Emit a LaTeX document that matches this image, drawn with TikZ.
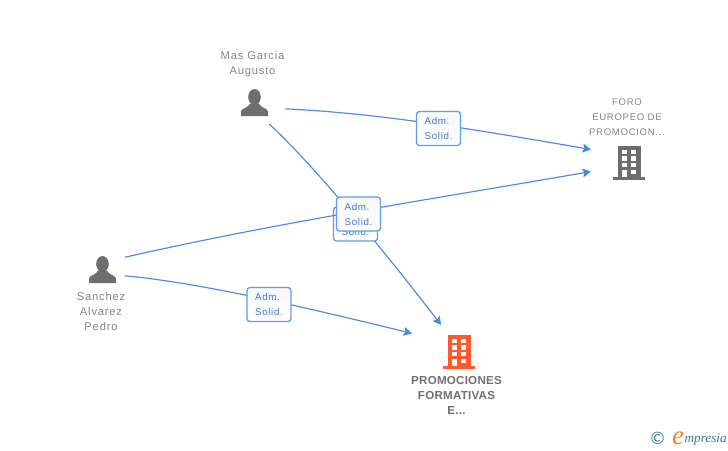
\documentclass[tikz,border=0pt]{standalone}
\usepackage{fontspec}
\setmainfont{Liberation Sans}
\newfontfamily\spacedfont[LetterSpace=7]{Liberation Sans}
\newfontfamily\spacedbold[LetterSpace=2,BoldFont={Liberation Sans Bold}]{Liberation Sans}
\newfontfamily\logofont{Liberation Serif}
\usetikzlibrary{arrows.meta}
\definecolor{linkblue}{HTML}{4A8AE4}
\definecolor{boxblue}{HTML}{5F9CEA}
\definecolor{labblue}{HTML}{3B78D0}
\definecolor{namegrey}{HTML}{858585}
\definecolor{icongrey}{HTML}{6E6E6E}
\definecolor{boldgrey}{HTML}{707070}
\definecolor{orangeb}{HTML}{FF5A2E}
\definecolor{tealb}{HTML}{2F7F96}
\definecolor{logoorange}{HTML}{F08A1E}
\tikzset{
  x=1pt,y=-1pt,
  anchorbox/.style={draw=none,fill=none,inner sep=0pt,outer sep=0pt},
  link/.style={draw=linkblue,line width=1.15pt,-{Stealth[length=8.5pt,width=9pt,inset=1.8pt]}},
  lab/.style={draw=boxblue,line width=1.3pt,rounded corners=3pt,top color=black!3,bottom color=white,
    minimum width=44pt,minimum height=34pt,inner sep=0pt,text=labblue,
    font=\spacedfont\fontsize{9.8}{15}\selectfont,align=left},
  nametext/.style={text=namegrey,font=\spacedfont\fontsize{11.2}{15}\selectfont,align=center,inner sep=0pt},
  boldtext/.style={text=boldgrey,font=\spacedbold\bfseries\fontsize{11.6}{15}\selectfont,align=center,inner sep=0pt},
  personicon/.pic={
    \fill[icongrey] (0,-5.5) ellipse[x radius=6.3,y radius=8];
    \fill[icongrey] (-13.5,13.5) -- (-13.5,9) .. controls (-13,5.5) and (-6,5.5) .. (-4.5,1) -- (4.5,1)
       .. controls (6,5.5) and (13,5.5) .. (13.5,9) -- (13.5,13.5) -- cycle;
  },
  buildingicon/.pic={
    \fill[pic actions] (-10.5,-17) rectangle (12.5,14);
    \fill[pic actions] (-15,14) rectangle (17,17);
    \fill[white] (-6.2,-13.2) rectangle (-1,-8.8);
    \fill[white] (3.3,-13.2) rectangle (8.4,-8.8);
    \fill[white] (-6.2,-6.7) rectangle (-1,-2.1);
    \fill[white] (3.3,-6.7) rectangle (8.4,-2.1);
    \fill[white] (-6.2,-0.2) rectangle (-1,4.2);
    \fill[white] (3.3,-0.2) rectangle (8.4,4.2);
    \fill[white] (-6.2,6.8) rectangle (-1,14);
    \fill[white] (3.3,6.8) rectangle (8.4,11.2);
  }
}
\begin{document}
\begin{tikzpicture}
\useasboundingbox (0,0) rectangle (728,450);
\fill[white] (0,0) rectangle (728,450);
% connection boxes around the icons
\node[anchorbox,minimum width=60pt,minimum height=42pt] (mas) at (255,103) {};
\node[anchorbox,minimum width=46pt,minimum height=40pt] (sanchez) at (102,270) {};
\node[anchorbox,minimum width=74pt,minimum height=30pt] (foro) at (628,163) {};
\node[anchorbox,minimum width=92pt,minimum height=54pt] (prom) at (458,352) {};
% icons
\pic at (254.5,102.5) {personicon};
\pic at (102.5,269.5) {personicon};
\pic[fill=icongrey] at (628,163) {buildingicon};
\pic[fill=orangeb] at (458,352) {buildingicon};
% names
\node[nametext] (masname) at (252.5,64) {Mas Garcia\\Augusto};
\node[nametext] (sanname) at (101,311.5) {Sanchez\\Alvarez\\Pedro};
\node[nametext,font=\spacedfont\fontsize{9.6}{15}\selectfont] (foroname) at (627,117) {FORO\\EUROPEO DE\\PROMOCION...};
\node[boldtext] (promname) at (456.5,395.5) {PROMOCIONES\\FORMATIVAS\\E...};
% connectors with their labels
\draw[link] (mas.-56.3) .. controls (312,163) and (385,252) .. (prom.122.2)
  node[lab] (l2) at (355.5,224) {Adm.\\Solid.};
\draw[link] (mas.-11.3) .. controls (370,113) and (450,125) .. (foro.160.6)
  node[lab] (l1) at (438.5,128.5) {Adm.\\Solid.};
\draw[link] (sanchez.29.5) .. controls (280,222) and (430,199.5) .. (foro.193.7)
  node[lab] (l3) at (358.5,214) {Adm.\\Solid.};
\draw[link] (sanchez.-14.6) .. controls (200,283) and (300,306) .. (prom.158.6)
  node[lab] (l4) at (269,304.5) {Adm.\\Solid.};
% logo
\node[inner sep=0pt,text=tealb,font=\fontspec{DejaVu Sans}\fontsize{17}{17}\selectfont] (copy) at (657.5,438.5) {©};
\node[inner sep=0pt,text=logoorange,font=\logofont\itshape\fontsize{27}{27}\selectfont] (logoe) at (678,438.5) {e};
\node[inner sep=0pt,anchor=west,text=tealb,font=\logofont\itshape\fontsize{13.2}{14}\selectfont] (logot) at (684.5,440) {mpresia};
\end{tikzpicture}
\end{document}
